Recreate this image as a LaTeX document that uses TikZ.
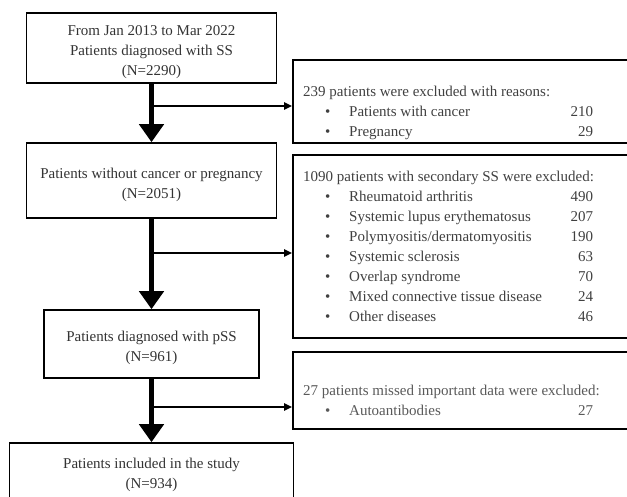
\documentclass[tikz,border=0pt]{standalone}
\usepackage{fontspec}
\setmainfont{Liberation Serif}
\usepackage{xcolor}
\usepackage{tikz}
\usetikzlibrary {positioning}
\usetikzlibrary{arrows.meta}
\tikzset{edge/.style = {-{Triangle[width=24pt,length=18pt]}, line width=5pt}}
\tikzset{branch/.style = {-{Triangle[width=7pt,length=8pt]}, line width=2pt}}
\newcommand{\exitem}[2]{\makebox[46pt][l]{\hspace{22pt}\textbullet}\makebox[244pt][l]{#1\hfill#2}}
\newcommand{\topgap}{\rule{0pt}{19pt}}

\begin{document}
\begin{tikzpicture}[x=1pt,y=-1pt,
  main node/.style={rectangle,draw,line width=1.6pt,align=center,text=black!80,inner sep=0pt,font=\fontsize{15}{20}\selectfont},
  excl node/.style={rectangle,draw,line width=1.6pt,minimum width=347pt,inner sep=0pt},
  list/.style={align=left,anchor=north west,inner sep=0pt,text=black!75,font=\fontsize{15}{20}\selectfont}]
                \useasboundingbox (0,0) rectangle (627,497);

                \node[main node, minimum width=250pt, minimum height=70pt] (1) at (151.5,48) {\topgap From Jan 2013 to Mar 2022\\Patients diagnosed with SS\\(N=2290)};
                \node[main node, minimum width=250pt, minimum height=75pt] (2) at (151.5,180.5) {\topgap Patients without cancer or pregnancy\\(N=2051)};
                \node[main node, minimum width=215pt, minimum height=68pt] (3) at (151.5,344) {\topgap Patients diagnosed with pSS\\(N=961)};
                \node[main node, minimum width=284pt, minimum height=56pt] (4) at (151.5,471) {\topgap Patients included in the study\\(N=934)};

                \node[excl node, minimum height=83pt] (e1) at (466.5,101.5) {};
                \node[excl node, minimum height=183pt] (e2) at (466.5,246.5) {};
                \node[excl node, minimum height=77pt] (e3) at (466.5,390.5) {};

                \node[list] (t1) at (303,86) {239 patients were excluded with reasons:\\
                  \exitem{Patients with cancer}{210}\\
                  \exitem{Pregnancy}{29}};
                \node[list] (t2) at (303,171) {1090 patients with secondary SS were excluded:\\
                  \exitem{Rheumatoid arthritis}{490}\\
                  \exitem{Systemic lupus erythematosus}{207}\\
                  \exitem{Polymyositis/dermatomyositis}{190}\\
                  \exitem{Systemic sclerosis}{63}\\
                  \exitem{Overlap syndrome}{70}\\
                  \exitem{Mixed connective tissue disease}{24}\\
                  \exitem{Other diseases}{46}};
                \node[list, text=black!65] (t3) at (303,385) {27 patients missed important data were excluded:\\
                  \exitem{Autoantibodies}{27}};

                \coordinate (b1) at (151.5,106);
                \coordinate (b2) at (151.5,253);
                \coordinate (b3) at (151.5,407);

                \path[edge] (1) edge[] node {} (2);
                \path[edge] (2) edge[] node {} (3);
                \path[edge] (3) edge[] node {} (4);
                \draw[branch] (b1) -- (b1 -| e1.west);
                \draw[branch] (b2) -- (b2 -| e2.west);
                \draw[branch] (b3) -- (b3 -| e3.west);
            \end{tikzpicture}
\end{document}
